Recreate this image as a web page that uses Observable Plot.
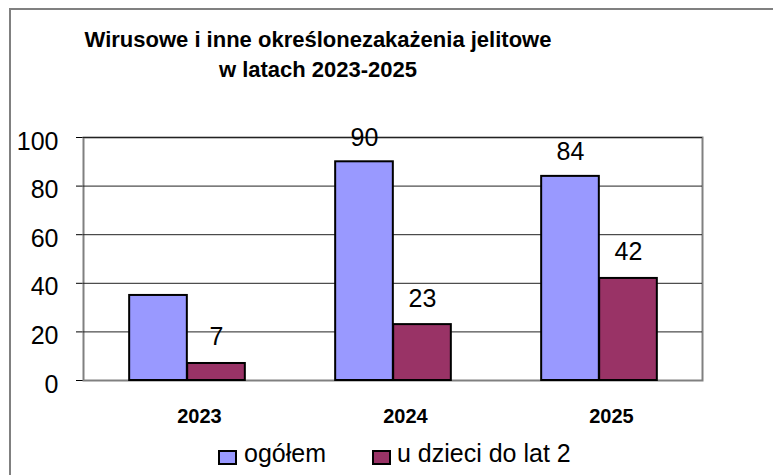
<!DOCTYPE html>
<html>
<head>
<meta charset="utf-8">
<script src="https://cdn.jsdelivr.net/npm/d3@7"></script>
<script src="https://cdn.jsdelivr.net/npm/@observablehq/plot@0.6"></script>
<style>
  html, body { margin: 0; padding: 0; background: #fff; }
  body { width: 773px; height: 475px; position: relative; overflow: hidden;
         font-family: "Liberation Sans", Arial, sans-serif; color: #000; }
  #box { position: absolute; left: 9px; top: 8px; right: -10px; bottom: -10px;
         border-left: 2px solid #808080; border-top: 2px solid #808080; }
  #chart { position: absolute; left: 0; top: 0; }
  #title { position: absolute; left: 0; top: 25px; width: 636px; text-align: center;
           font-weight: bold; font-size: 22px; line-height: 30px; }
  .sw { position: absolute; width: 15px; height: 11px; border: 2px solid #000; top: 450px; }
  .lt { position: absolute; font-size: 25px; line-height: 25px; top: 441px; white-space: nowrap; }
</style>
</head>
<body>
<div id="box"></div>
<div id="chart"></div>
<div id="title">Wirusowe i inne określonezakażenia jelitowe<br>w latach 2023-2025</div>
<div id="legend"></div>
<script>
const years = ["2023", "2024", "2025"];
const ogolem = [35, 90, 84];
const dzieci = [7, 23, 42];
const ogolemLabelShown = [false, true, true];
const dzieciLabelShown = [true, true, true];
const seriesNames = ["ogółem", "u dzieci do lat 2"];
const seriesColors = ["#9999FF", "#993366"];
const yTicks = [0, 20, 40, 60, 80, 100];

const dataO = years.map((y, i) => ({year: y, value: ogolem[i], show: ogolemLabelShown[i]}));
const dataD = years.map((y, i) => ({year: y, value: dzieci[i], show: dzieciLabelShown[i]}));

const W = 773, H = 475;
const mL = 83, mR = 71, mT = 137, mB = 95;
const step = (W - mL - mR) / years.length;
const barW = 58;

const plot = Plot.plot({
  width: W, height: H,
  marginLeft: mL, marginRight: mR, marginTop: mT, marginBottom: mB,
  style: {fontFamily: "Liberation Sans, Arial, sans-serif", fontSize: "25px", background: "transparent", color: "#000"},
  x: {type: "band", domain: years, padding: 0, axis: null},
  y: {domain: [0, 100], ticks: yTicks, tickSize: 7, tickFormat: () => "", tickPadding: 0, label: null, axis: "left"},
  marks: [
    Plot.frame({stroke: "#808080", strokeWidth: 2}),
    Plot.ruleY(yTicks.filter(d => d > 0), {stroke: "#222", strokeWidth: 1}),
    Plot.barY(dataO, {x: "year", y: "value", fill: seriesColors[0], stroke: "#000", strokeWidth: 2,
      insetLeft: step / 2 - barW, insetRight: step / 2}),
    Plot.barY(dataD, {x: "year", y: "value", fill: seriesColors[1], stroke: "#000", strokeWidth: 2,
      insetLeft: step / 2, insetRight: step / 2 - barW}),
    Plot.text(dataO.filter(d => d.show), {x: "year", y: "value", text: d => String(d.value),
      dx: -barW / 2, dy: -16, lineAnchor: "bottom", fontSize: 25, fill: "#000"}),
    Plot.text(dataD.filter(d => d.show), {x: "year", y: "value", text: d => String(d.value),
      dx: barW / 2, dy: -18, lineAnchor: "bottom", fontSize: 25, fill: "#000"}),
    Plot.text(yTicks, {y: d => d, text: d => String(d), frameAnchor: "left", textAnchor: "end",
      dx: -25, dy: 4, fontSize: 25, fill: "#000"}),
    Plot.text(years, {x: d => d, text: d => d, frameAnchor: "bottom", lineAnchor: "top",
      dy: 28, dx: 12, fontSize: 20, fontWeight: "bold", fill: "#000"})
  ]
});
document.getElementById("chart").appendChild(plot);

// legend
const legend = document.getElementById("legend");
const swX = [218, 372];
const txX = [244, 397];
seriesNames.forEach((name, i) => {
  const sw = document.createElement("div");
  sw.className = "sw";
  sw.style.left = swX[i] + "px";
  sw.style.background = seriesColors[i];
  legend.appendChild(sw);
  const t = document.createElement("div");
  t.className = "lt";
  t.style.left = txX[i] + "px";
  t.textContent = name;
  legend.appendChild(t);
});
</script>
</body>
</html>
